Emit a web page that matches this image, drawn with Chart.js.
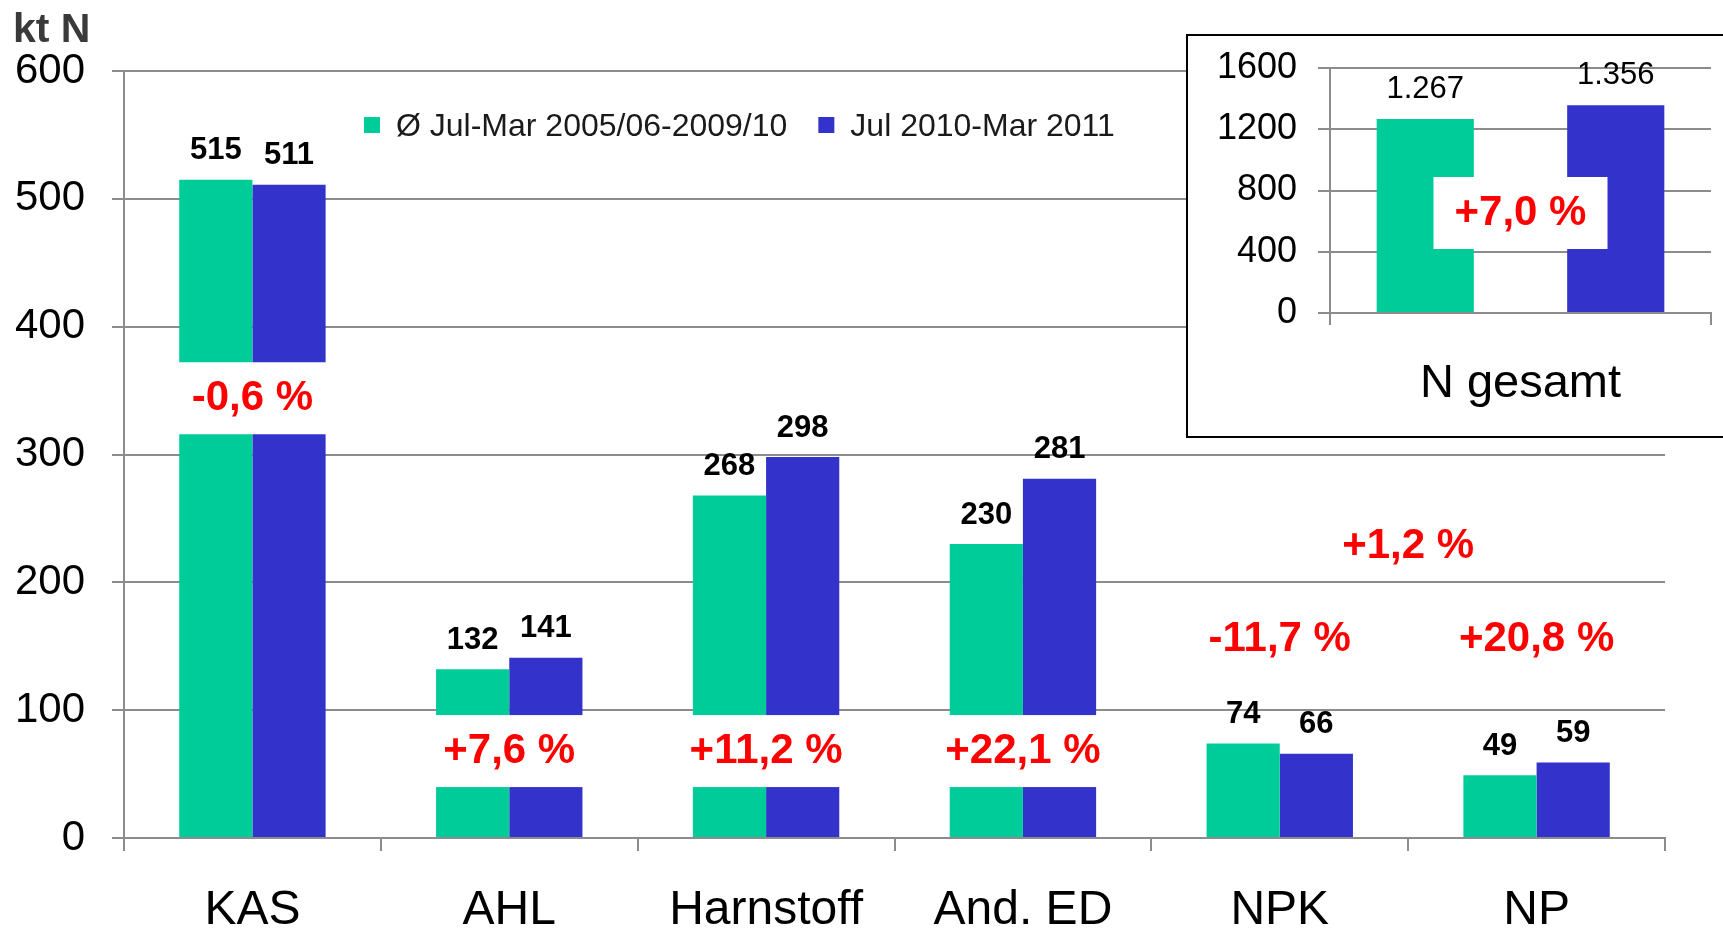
<!DOCTYPE html>
<html>
<head>
<meta charset="utf-8">
<script src="https://cdn.jsdelivr.net/npm/chart.js@4.4.1/dist/chart.umd.min.js"></script>
<style>
  html, body { margin: 0; padding: 0; background: #fff; overflow: hidden; }
  #wrap { position: relative; width: 1723px; height: 928px; }
  #main { position: absolute; left: 0; top: 0; }
  #insetBox { position: absolute; left: 1186px; top: 34px; width: 540px; height: 400px;
              border: 2px solid #000; background: #fff; }
  #inset { position: absolute; left: 0; top: 0; }
</style>
</head>
<body>
<div id="wrap">
  <canvas id="main" width="1723" height="928"></canvas>
  <div id="insetBox"><canvas id="inset" width="540" height="400"></canvas></div>
</div>
<script>
const categories = ['KAS', 'AHL', 'Harnstoff', 'And. ED', 'NPK', 'NP'];
const seriesNames = ['Ø Jul-Mar 2005/06-2009/10', 'Jul 2010-Mar 2011'];
const avgValues = [515, 132, 268, 230, 74, 49];
const curValues = [511, 141, 298, 281, 66, 59];
const changeTexts = ['-0,6 %', '+7,6 %', '+11,2 %', '+22,1 %', '-11,7 %', '+20,8 %'];
const changeLevels = [344, 68, 68, 68, 155, 155];
const otherChangeText = '+1,2 %';
const otherChangeLevel = 228;

const insetLabel = 'N gesamt';
const insetValues = [1267, 1356];
const insetChangeText = '+7,0 %';
const insetChangeLevel = 653;

const FONT = "'Liberation Sans', Arial, sans-serif";
const GREEN = '#00cc99';
const BLUE = '#3333cc';
const GRID = '#8c8c8c';

Chart.defaults.font.family = FONT;
Chart.defaults.animation = false;

function deNumber(v) {
  return String(v).replace(/\B(?=(\d{3})+(?!\d))/g, '.');
}

function drawChangeBox(ctx, text, cx, cy, boxed) {
  if (boxed) {
    ctx.fillStyle = '#fff';
    ctx.fillRect(cx - 87, cy - 36, 174, 72);
  }
  ctx.fillStyle = '#ff0000';
  ctx.font = 'bold 42px ' + FONT;
  ctx.textAlign = 'center';
  ctx.textBaseline = 'middle';
  ctx.fillText(text, cx, cy);
}

const mainOverlay = {
  id: 'mainOverlay',
  afterDatasetsDraw(chart) {
    const { ctx } = chart;
    const xs = chart.scales.x, ys = chart.scales.y;
    ctx.save();
    changeTexts.forEach((t, i) => {
      drawChangeBox(ctx, t, xs.getPixelForValue(i), ys.getPixelForValue(changeLevels[i]), true);
    });
    const ox = (xs.getPixelForValue(4) + xs.getPixelForValue(5)) / 2;
    drawChangeBox(ctx, otherChangeText, ox, ys.getPixelForValue(otherChangeLevel), false);

    // value labels above bars
    chart.data.datasets.forEach((ds, di) => {
      chart.getDatasetMeta(di).data.forEach((bar, i) => {
        ctx.font = 'bold 31px ' + FONT;
        ctx.fillStyle = '#000';
        ctx.textAlign = 'center';
        ctx.textBaseline = 'middle';
        ctx.fillText(deNumber(ds.data[i]), bar.x, bar.y - 29);
      });
    });

    // legend
    ctx.font = '32px ' + FONT;
    ctx.textAlign = 'left';
    ctx.textBaseline = 'middle';
    let lx = 364;
    chart.data.datasets.forEach((ds) => {
      ctx.fillStyle = ds.backgroundColor;
      ctx.fillRect(lx, 117, 16, 16);
      ctx.fillStyle = '#1a1a1a';
      ctx.fillText(ds.label, lx + 32, 127);
      lx += 32 + ctx.measureText(ds.label).width + 31;
    });

    // unit
    ctx.font = 'bold 41px ' + FONT;
    ctx.fillStyle = '#3a3a3a';
    ctx.textBaseline = 'alphabetic';
    ctx.fillText('kt N', 13, 42);
    ctx.restore();
  }
};

new Chart(document.getElementById('main'), {
  type: 'bar',
  data: {
    labels: categories,
    datasets: [
      { label: seriesNames[0], data: avgValues, backgroundColor: GREEN },
      { label: seriesNames[1], data: curValues, backgroundColor: BLUE }
    ]
  },
  options: {
    responsive: false,
    layout: { padding: { top: 71, right: 58, left: 0, bottom: 0 } },
    categoryPercentage: 0.57,
    barPercentage: 1.0,
    plugins: { legend: { display: false }, tooltip: { enabled: false } },
    scales: {
      x: {
        afterFit: (s) => { s.height = 90; },
        grid: { offset: true, drawOnChartArea: false, tickLength: 13, color: GRID, lineWidth: 2 },
        border: { color: GRID, width: 2 },
        ticks: { color: '#000', font: { size: 48 }, padding: 31 }
      },
      y: {
        min: 0, max: 600,
        afterFit: (s) => { s.width = 124; s.paddingTop = 0; s.paddingBottom = 0; },
        grid: { color: GRID, lineWidth: 2, tickLength: 12 },
        border: { color: GRID, width: 2 },
        ticks: { stepSize: 100, color: '#000', font: { size: 42 }, padding: 27 }
      }
    }
  },
  plugins: [mainOverlay]
});

const insetOverlay = {
  id: 'insetOverlay',
  afterDatasetsDraw(chart) {
    const { ctx } = chart;
    const xs = chart.scales.x, ys = chart.scales.y;
    ctx.save();
    const meta = chart.getDatasetMeta(0);
    meta.data.forEach((bar, i) => {
      ctx.font = '31px ' + FONT;
      ctx.fillStyle = '#000';
      ctx.textAlign = 'center';
      ctx.textBaseline = 'middle';
      ctx.fillText(deNumber(insetValues[i]), bar.x, bar.y - 30);
    });
    const cx = (xs.left + xs.right) / 2;
    drawChangeBox(ctx, insetChangeText, cx, ys.getPixelForValue(insetChangeLevel), true);
    ctx.restore();
  }
};

new Chart(document.getElementById('inset'), {
  type: 'bar',
  data: {
    labels: ['', ''],
    datasets: [{ label: insetLabel, data: insetValues, backgroundColor: [GREEN, BLUE] }]
  },
  options: {
    responsive: false,
    layout: { padding: { top: 32, right: 17, left: 0, bottom: 0 } },
    categoryPercentage: 1.0,
    barPercentage: 0.51,
    plugins: { legend: { display: false }, tooltip: { enabled: false } },
    scales: {
      x: {
        afterFit: (s) => { s.height = 123; },
        grid: {
          offset: true, drawOnChartArea: false, tickLength: 12, lineWidth: 2,
          color: (c) => (c.index === 1 ? 'rgba(0,0,0,0)' : GRID)
        },
        border: { color: GRID, width: 2 },
        ticks: { callback: () => '' },
        title: { display: true, text: insetLabel, color: '#000', font: { size: 47 }, padding: { top: 0, bottom: 24 } }
      },
      y: {
        min: 0, max: 1600,
        afterFit: (s) => { s.width = 142; s.paddingTop = 0; s.paddingBottom = 0; },
        grid: { color: GRID, lineWidth: 2, tickLength: 12 },
        border: { color: GRID, width: 2 },
        ticks: { stepSize: 400, color: '#000', font: { size: 36 }, padding: 21, callback: (v) => String(v) }
      }
    }
  },
  plugins: [insetOverlay]
});
</script>
</body>
</html>
